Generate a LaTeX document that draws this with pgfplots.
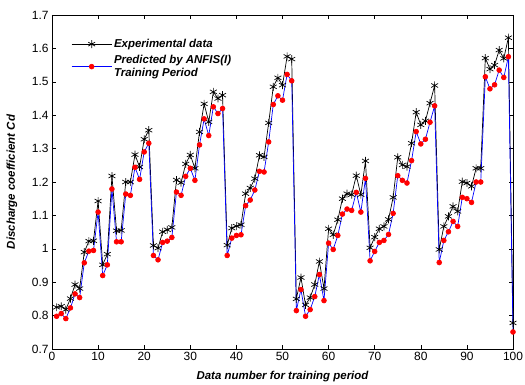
\documentclass[border=0pt]{standalone}
\usepackage{fontspec}
\setmainfont{Liberation Sans}
\usepackage{pgfplots}
\pgfplotsset{compat=1.18}
\begin{document}
\begin{tikzpicture}
\begin{axis}[
  name=main,
  scale only axis, width=461bp, height=334bp,
  xmin=0, xmax=100, ymin=0.7, ymax=1.7,
  xtick={0,10,20,30,40,50,60,70,80,90,100},
  ytick={0.7,0.8,0.9,1,1.1,1.2,1.3,1.4,1.5,1.6,1.7},
  tick align=inside, tick pos=both, major tick length=4bp,
  axis line style={line width=0.9pt},
  every tick/.style={black, line width=0.5pt},
  /pgf/number format/assume math mode=true,
  tick label style={font=\fontsize{12}{14}\selectfont},
  xlabel={\bfseries\itshape Data number for training period},
  ylabel={\bfseries\itshape Discharge coefficient Cd},
  label style={font=\fontsize{11.5}{13}\selectfont},
  xlabel style={at={(axis description cs:0.5,0)}, anchor=center, yshift=-28bp},
  ylabel style={at={(axis description cs:0,0.5)}, anchor=center, rotate=0, yshift=40bp},
  legend style={at={(0.035,0.94)}, anchor=north west, draw=none, fill=none,
    font=\fontsize{11.5}{13.5}\selectfont\bfseries\itshape,
    nodes={align=left}, row sep=2bp},
  legend cell align=left,
  legend image code/.code={\draw[mark repeat=2,mark phase=2,#1] plot coordinates {(0bp,0bp)(20bp,0bp)(40bp,0bp)};},
]
\addplot[black, line width=0.7pt, mark=asterisk, mark size=4pt, mark options={line width=0.7pt}] coordinates {
(1,0.825)(2,0.828)(3,0.818)(4,0.851)(5,0.893)(6,0.881)(7,0.99)(8,1.023)(9,1.024)(10,1.143)
(11,0.952)(12,0.984)(13,1.218)(14,1.054)(15,1.055)(16,1.2)(17,1.2)(18,1.282)(19,1.245)(20,1.328)
(21,1.355)(22,1.01)(23,1.002)(24,1.051)(25,1.057)(26,1.064)(27,1.206)(28,1.198)(29,1.254)(30,1.281)
(31,1.241)(32,1.35)(33,1.434)(34,1.38)(35,1.47)(36,1.45)(37,1.46)(38,1.011)(39,1.062)(40,1.068)
(41,1.072)(42,1.165)(43,1.182)(44,1.21)(45,1.28)(46,1.275)(47,1.377)(48,1.485)(49,1.512)(50,1.49)
(51,1.576)(52,1.568)(53,0.85)(54,0.914)(55,0.832)(56,0.854)(57,0.893)(58,0.962)(59,0.881)(60,1.06)
(61,1.042)(62,1.087)(63,1.15)(64,1.165)(65,1.162)(66,1.219)(67,1.162)(68,1.263)(69,1.003)(70,1.035)
(71,1.06)(72,1.067)(73,1.088)(74,1.154)(75,1.274)(76,1.251)(77,1.246)(78,1.316)(79,1.409)(80,1.371)
(81,1.383)(82,1.436)(83,1.489)(84,0.998)(85,1.067)(86,1.097)(87,1.127)(88,1.112)(89,1.201)(90,1.197)
(91,1.187)(92,1.241)(93,1.241)(94,1.571)(95,1.538)(96,1.55)(97,1.595)(98,1.57)(99,1.632)(100,0.778)
};
\addlegendentry{Experimental data}
\addplot[blue, line width=0.7pt, mark=*, mark size=2.4pt, mark options={fill=red, draw=red}] coordinates {
(1,0.798)(2,0.806)(3,0.791)(4,0.823)(5,0.865)(6,0.854)(7,0.958)(8,0.993)(9,0.995)(10,1.11)
(11,0.92)(12,0.952)(13,1.179)(14,1.021)(15,1.021)(16,1.164)(17,1.16)(18,1.244)(19,1.208)(20,1.29)
(21,1.316)(22,0.98)(23,0.967)(24,1.019)(25,1.023)(26,1.034)(27,1.17)(28,1.16)(29,1.217)(30,1.241)
(31,1.205)(32,1.311)(33,1.389)(34,1.339)(35,1.425)(36,1.405)(37,1.42)(38,0.98)(39,1.032)(40,1.04)
(41,1.042)(42,1.129)(43,1.146)(44,1.176)(45,1.232)(46,1.23)(47,1.32)(48,1.432)(49,1.458)(50,1.445)
(51,1.522)(52,1.503)(53,0.815)(54,0.878)(55,0.798)(56,0.818)(57,0.857)(58,0.923)(59,0.845)(60,1.017)
(61,0.998)(62,1.04)(63,1.104)(64,1.119)(65,1.115)(66,1.169)(67,1.11)(68,1.211)(69,0.964)(70,0.992)
(71,1.019)(72,1.025)(73,1.043)(74,1.106)(75,1.219)(76,1.205)(77,1.197)(78,1.264)(79,1.351)(80,1.314)
(81,1.328)(82,1.379)(83,1.428)(84,0.959)(85,1.025)(86,1.051)(87,1.082)(88,1.067)(89,1.154)(90,1.15)
(91,1.139)(92,1.2)(93,1.2)(94,1.515)(95,1.479)(96,1.491)(97,1.535)(98,1.513)(99,1.575)(100,0.751)
};
\addlegendentry{Predicted by ANFIS(I)\\Training Period}
\end{axis}
\pgfresetboundingbox
\path[use as bounding box] ([shift={(-52bp,-36bp)}]main.south west) rectangle ([shift={(12bp,15bp)}]main.north east);
\end{tikzpicture}
\end{document}
